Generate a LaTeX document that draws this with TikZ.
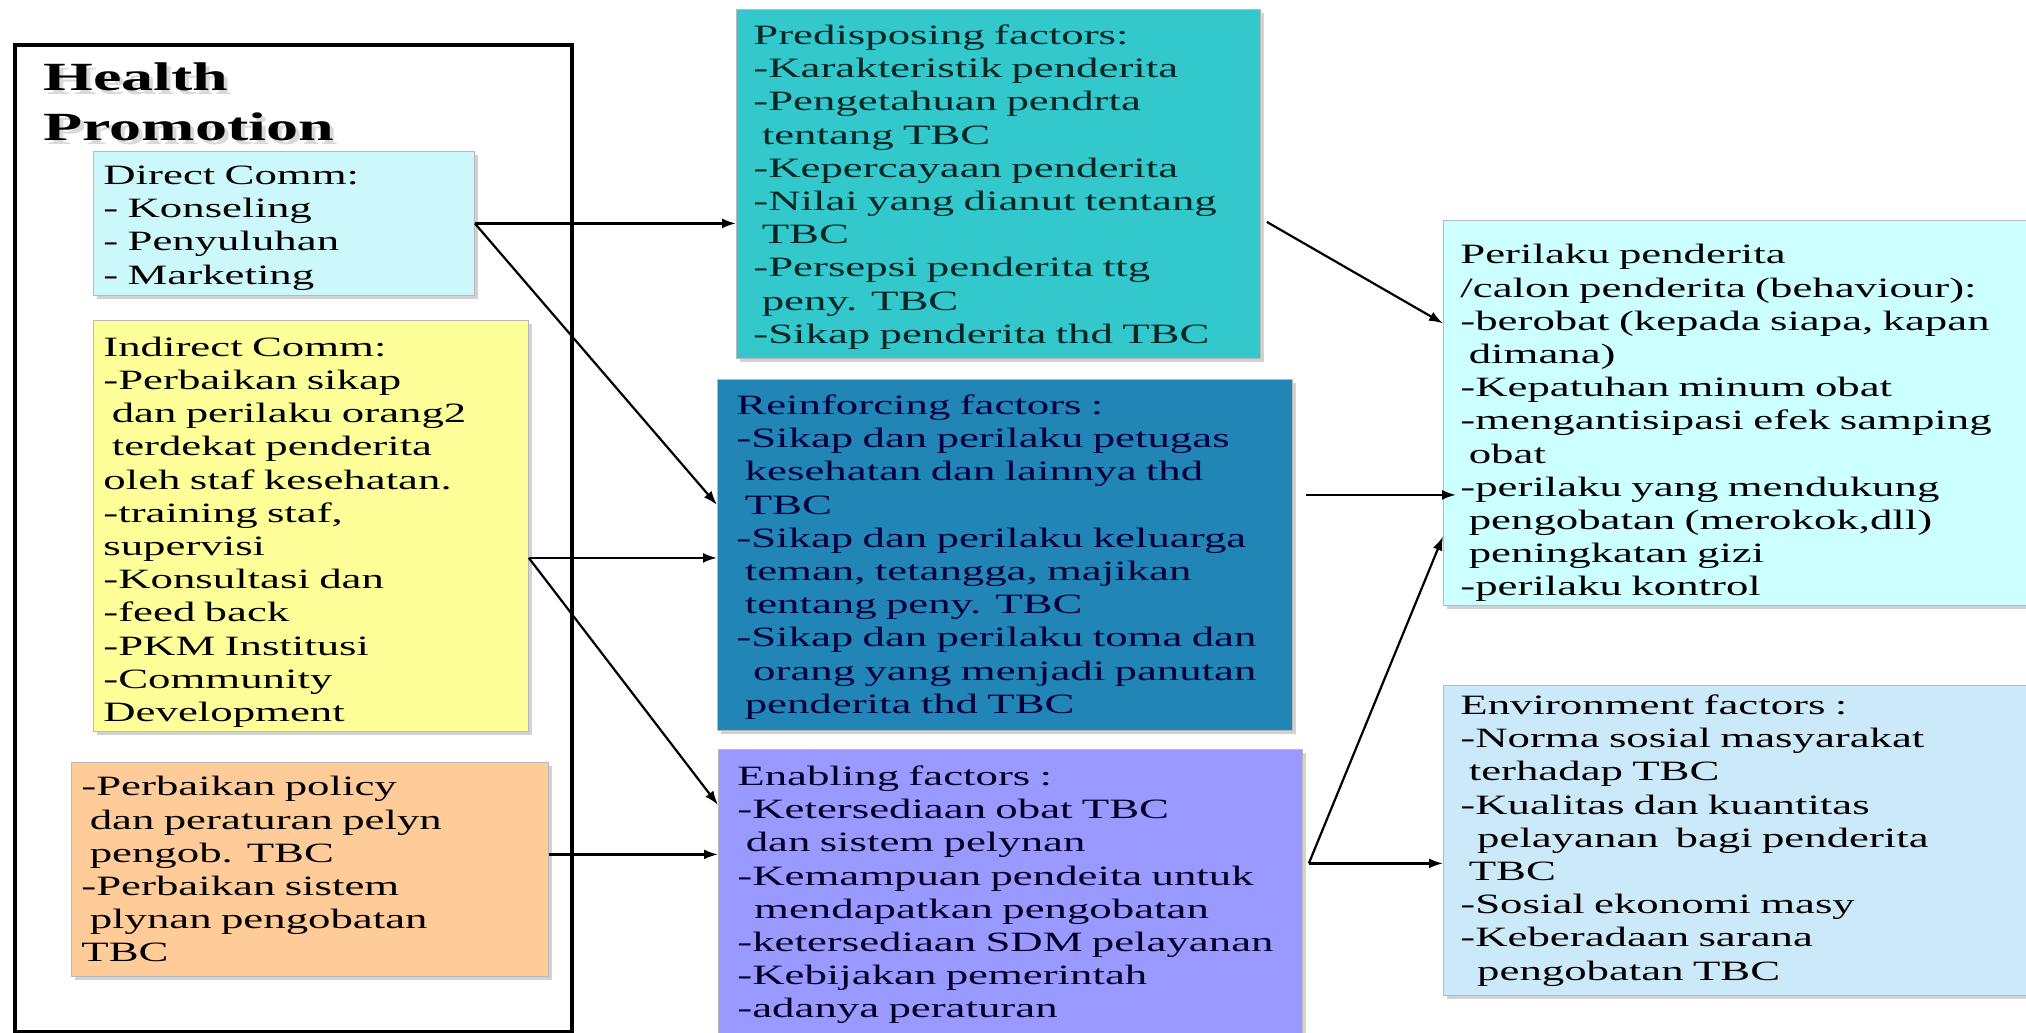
\documentclass[tikz,border=0pt]{standalone}
\usepackage{fontspec}
\setmainfont[FakeStretch=1.6]{Liberation Serif}
\usetikzlibrary{arrows.meta,shadows}
\definecolor{directfill}{HTML}{CCF8FC}
\definecolor{indirectfill}{HTML}{FFFF99}
\definecolor{policyfill}{HTML}{FFCC99}
\definecolor{predisfill}{HTML}{33C9CC}
\definecolor{reinffill}{HTML}{2186B5}
\definecolor{enabfill}{HTML}{9999FF}
\definecolor{behavfill}{HTML}{CCFFFF}
\definecolor{envirfill}{HTML}{CCE9F9}
\newcommand{\Sp}{\hspace*{0.3em}}
\newcommand{\Push}[1]{\rule{0pt}{#1}}

\begin{document}
\begin{tikzpicture}[x=0.5pt,y=-0.5pt,
    factor/.style={draw=gray!55, line width=0.4pt, anchor=north west, align=left,
        inner ysep=0pt, font=\fontsize{14}{16.6}\selectfont,
        drop shadow={shadow xshift=2pt,shadow yshift=-2pt,opacity=.35}},
    link/.style={-{Latex[length=7pt,width=5pt]}, line width=1.1pt}]
    \clip (0,0) rectangle (2026,1033);
    \fill[white] (0,0) rectangle (2026,1033);

    % health promotion
    \node[draw, line width=2.2pt, anchor=north west, minimum width=278.5pt, minimum height=493.5pt] (promo) at (13,43) {};
    \node[anchor=north west, align=left, inner sep=0pt, text=gray!30,
        font=\fontsize{20}{25}\selectfont\bfseries] (titleshadow) at (47,66) {Health\\Promotion};
    \node[anchor=north west, align=left, inner sep=0pt,
        font=\fontsize{20}{25}\selectfont\bfseries] (title) at (43,62) {Health\\Promotion};
    \node[factor, fill=directfill, text width=180.5pt, inner xsep=5pt, minimum height=72pt] (direct) at (93,151)
        {\Push{14pt}Direct Comm:\\- Konseling\\- Penyuluhan\\- Marketing};
    \node[factor, fill=indirectfill, text width=207.5pt, inner xsep=5pt, minimum height=205.5pt] (indirect) at (93,320)
        {\Push{16pt}Indirect Comm:\\-Perbaikan sikap\\\Sp dan perilaku orang2\\\Sp terdekat penderita\\oleh staf kesehatan.\\
         -training staf,\\supervisi\\-Konsultasi dan\\-feed back\\-PKM Institusi\\-Community\\Development};
    \node[factor, fill=policyfill, text width=228.5pt, inner xsep=5pt, minimum height=107pt] (policy) at (71,762)
        {-Perbaikan policy\\\Sp dan peraturan pelyn\\\Sp pengob. TBC\\-Perbaikan sistem\\\Sp plynan pengobatan\\TBC};

    % factors
    \node[factor, fill=predisfill, text=teal!30!black, text width=245pt, inner xsep=8.5pt, minimum height=174.5pt] (predis) at (736,9)
        {\Push{13pt}Predisposing factors:\\-Karakteristik penderita\\-Pengetahuan pendrta\\\Sp tentang TBC\\-Kepercayaan penderita\\
         -Nilai yang dianut tentang\\\Sp TBC\\-Persepsi penderita ttg\\\Sp peny. TBC\\-Sikap penderita thd TBC};
    \node[factor, fill=reinffill, text=blue!25!black, text width=268.5pt, inner xsep=9.5pt, minimum height=175.5pt] (reinf) at (717,379)
        {\Push{12pt}Reinforcing factors :\\-Sikap dan perilaku petugas\\\Sp kesehatan dan lainnya thd\\\Sp TBC\\-Sikap dan perilaku keluarga\\
         \Sp teman, tetangga, majikan\\\Sp tentang peny. TBC\\-Sikap dan perilaku toma dan\\\Sp\Sp orang yang menjadi panutan\\\Sp penderita thd TBC};
    \node[factor, fill=enabfill, text=blue!15!black, text width=273pt, inner xsep=9.5pt, minimum height=145.5pt] (enab) at (718,749)
        {Enabling factors :\\-Ketersediaan obat TBC\\\Sp dan sistem pelynan\\-Kemampuan pendeita untuk\\\Sp\Sp mendapatkan pengobatan\\
         -ketersediaan SDM pelayanan\\-Kebijakan pemerintah\\-adanya peraturan};

    % outcome
    \node[factor, fill=behavfill, text width=277pt, inner xsep=8.5pt, minimum height=192.5pt] (behav) at (1443,220)
        {\Push{20pt}Perilaku penderita\\/calon penderita (behaviour):\\-berobat (kepada siapa, kapan\\\Sp dimana)\\-Kepatuhan minum obat\\
         -mengantisipasi efek samping\\\Sp obat\\-perilaku yang mendukung\\\Sp pengobatan (merokok,dll)\\\Sp peningkatan gizi\\-perilaku kontrol};
    \node[factor, fill=envirfill, text width=277pt, inner xsep=8.5pt, minimum height=155pt] (envir) at (1443,685)
        {Environment factors :\\-Norma sosial masyarakat\\\Sp terhadap TBC\\-Kualitas dan kuantitas\\\Sp\Sp pelayanan\Sp\Sp bagi penderita\\
         \Sp TBC\\-Sosial ekonomi masy\\-Keberadaan sarana\\\Sp\Sp pengobatan TBC};

    % arrows
    \coordinate (indirectout) at ([yshift=-16pt]indirect.east);
    \coordinate (enabout) at ([xshift=3pt,yshift=15.75pt]enab.east);
    \draw[link] (direct.east) -- (direct.east -| predis.west);
    \draw[link] (direct.east) -- ([yshift=25pt]reinf.west);
    \draw[link] (indirectout) -- (indirectout -| reinf.west);
    \draw[link] (indirectout) -- ([yshift=45pt]enab.west);
    \draw[link] ([yshift=7.5pt]policy.east) -- ([yshift=7.5pt]policy.east -| enab.west);
    \draw[link] ([xshift=3pt,yshift=-19pt]predis.east) -- ([yshift=44.75pt]behav.west);
    \draw[link] ([xshift=6.5pt,yshift=30pt]reinf.east) -- ([xshift=6.5pt,yshift=30pt]reinf.east -| behav.west);
    \draw[link] (enabout) -- ([yshift=-61.75pt]behav.west);
    \draw[link] (enabout) -- (enabout -| envir.west);
\end{tikzpicture}
\end{document}
